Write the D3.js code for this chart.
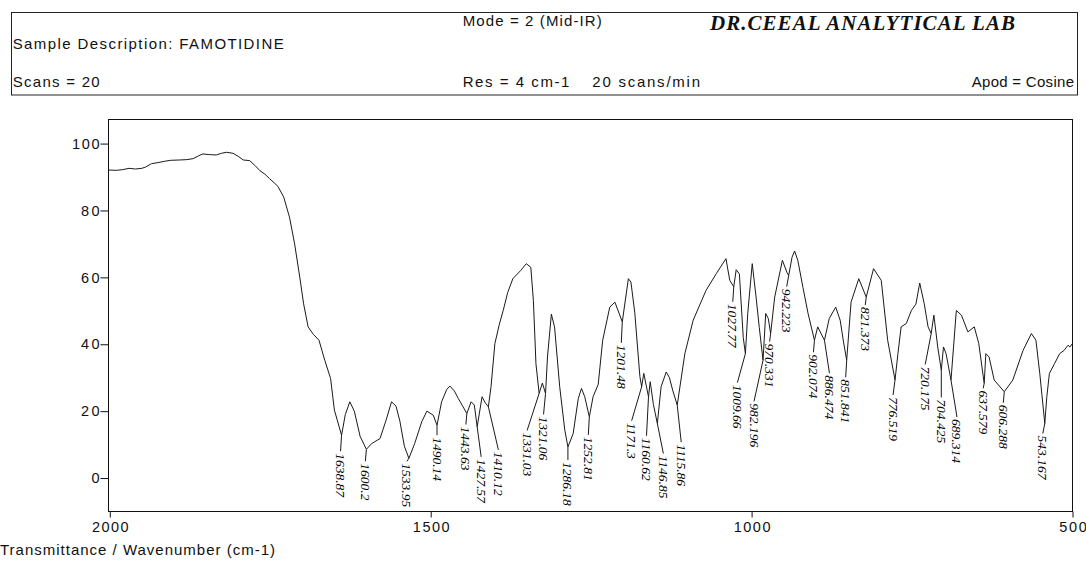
<!DOCTYPE html>
<html><head><meta charset="utf-8">
<script src="https://cdn.jsdelivr.net/npm/d3@7"></script>
<style>body{margin:0;background:#fff} svg{display:block}</style>
</head><body><svg id="c" width="1086" height="564"></svg>
<script>
// ---------------- DATA ----------------
const wavenumber = [2002,1990,1980,1970,1960,1950,1944,1935,1925,1915,1905,1891,1880,1870,1862,1855,1845,1834,1826,1818,1808,1800,1792,1782,1774,1766,1758,1751,1744,1738,1729,1720,1712,1704,1698,1691,1683,1674,1665,1656,1650,1638.87,1633,1626,1619,1610,1600.2,1592,1579,1570,1561,1554,1548,1541,1533.95,1525,1514,1506,1496,1490.14,1483,1475,1470,1463,1457,1443.63,1437,1432,1427.57,1420,1415,1410.12,1406,1400,1393,1387,1380,1372,1360,1351,1344,1340,1336,1331.03,1326,1321.06,1318,1312,1307,1299,1291,1286.18,1278,1270,1265,1260,1252.81,1247,1239,1232,1221,1213,1201.48,1192,1188,1182,1174,1171.3,1168,1160.62,1158,1153,1146.85,1141,1133,1128,1123,1115.86,1104,1091,1071,1055,1040,1034,1027.77,1024,1019,1013,1009.66,1006,999,993,988,982.196,978,974,970.331,964,952,945,942.223,937,933,928,920,912,902.074,897,886.474,879,869,862,857,851.841,845,833,821.373,810,798,788,776.519,772,767,759,751,744,738,731,725,720.175,716,710,704.425,701,697,689.314,681,673,663,653,646,637.579,635,630,622,606.288,593,577,564,557,551,543.167,540,536,528,520,513,507,504,501,500];
const transmittance = [92.1,92.0,92.2,92.6,92.4,92.6,93.0,94.0,94.3,94.7,95.0,95.1,95.2,95.5,96.3,96.9,96.7,96.6,97.1,97.4,97.1,96.2,95.1,94.9,93.5,91.9,90.8,89.5,88.3,87.2,84.0,78.0,70.0,60.1,52.1,45.2,43.0,41.2,35.2,29.8,20.3,12.8,19.0,22.8,20.0,12.5,8.6,10.3,11.8,17.0,22.8,21.5,17.0,9.5,5.9,10.3,16.8,20.0,18.8,15.8,22.8,26.5,27.5,26.0,23.8,19.3,22.8,21.8,15.3,24.3,22.5,21.3,27.3,40.2,46.0,50.1,55.5,59.6,62.0,64.1,63.0,53.1,34.2,25.3,28.4,25.3,36.2,49.0,45.2,27.3,14.3,9.3,13.3,23.8,26.8,24.3,18.3,24.3,28.0,41.2,51.1,52.6,46.7,59.6,58.6,49.4,30.3,27.3,31.3,24.3,28.8,22.0,16.3,27.3,31.7,30.0,26.3,21.8,37.2,47.2,56.1,61.1,65.6,59.1,57.2,62.3,61.0,42.0,37.2,49.2,64.1,54.1,45.0,35.2,49.2,47.7,43.2,54.1,65.1,61.5,60.5,66.0,67.9,65.1,57.0,49.2,41.2,45.2,41.2,47.7,51.1,47.2,41.0,35.2,52.6,59.6,54.1,62.6,59.1,41.2,29.3,37.2,45.2,46.2,50.1,52.0,58.3,52.1,45.2,43.2,48.7,39.2,32.2,39.2,37.2,29.3,50.1,48.7,43.7,45.2,40.2,28.3,37.2,36.2,29.3,25.8,29.3,38.2,43.2,41.2,31.3,16.3,24.3,31.3,34.2,37.2,38.2,39.7,39.2,40.0,39.5];
const peakLabels = ["1638.87","1600.2","1533.95","1490.14","1443.63","1427.57","1410.12","1331.03","1321.06","1286.18","1252.81","1201.48","1171.3","1160.62","1146.85","1115.86","1027.77","1009.66","982.196","970.331","942.223","902.074","886.474","851.841","821.373","776.519","720.175","704.425","689.314","637.579","606.288","543.167"];
const xTickValues = [2000,1500,1000,500];
const yTickValues = [0,20,40,60,80,100];
const headerLeft = ["Sample Description: FAMOTIDINE","Scans = 20"];
const headerMid = ["Mode = 2 (Mid-IR)","Res = 4 cm-1","20 scans/min"];
const labName = "DR.CEEAL ANALYTICAL LAB";
const apodText = "Apod = Cosine";
const axisTitle = "Transmittance / Wavenumber (cm-1)";

// ---------------- LAYOUT (label leader offsets, px) ----------------
const labelDx  = [-1,-1,-2,0,-1,4,10,-12,-2,0,-1,-1,-10,-2,6,4,-1,-8,-9,-1,-2,-1,5,-1,-1,-2,-6,0,6,-1,-1,-2];
const labelLen = [16,12,3,10,11,30,43,37,21,13,18,21,34,39,30,37,15,29,41,8,11,12,33,17,8,15,31,27,37,5,11,10];

// ---------------- DRAW ----------------
const svg = d3.select("#c");
const sans = "'Liberation Sans', Arial, sans-serif";
const x = d3.scaleLinear().domain([2002, 500]).range([108.5, 1072.5]);
const y = d3.scaleLinear().domain([-10, 107.2]).range([511.5, 119.5]);

// header box
svg.append("rect").attr("x",11.5).attr("y",12.5).attr("width",1066).attr("height",82.5)
  .attr("fill","none").attr("stroke","#222").attr("stroke-width",1);

function txt(s, xx, yy, w, opts={}) {
  const t = svg.append("text").attr("x",xx).attr("y",yy).text(s)
    .attr("font-family", opts.family || sans).attr("font-size", opts.size || 15)
    .attr("fill","#111");
  if (w) t.attr("textLength", w).attr("lengthAdjust","spacing");
  if (opts.weight) t.attr("font-weight", opts.weight);
  if (opts.style) t.attr("font-style", opts.style);
  return t;
}
txt(headerMid[0], 462.7, 26, 139);
txt(labName, 710, 29.5, 305, {family:"'Liberation Serif','Times New Roman',serif", size:21, weight:"bold", style:"italic"});
txt(headerLeft[0], 12.7, 49.3, 271);
txt(headerLeft[1], 12.7, 87.3, 87);
txt(headerMid[1], 462.7, 87.3, 106.6);
txt(headerMid[2], 592.3, 87.3, 107.7);
txt(apodText, 971.7, 87.3, 102.3);
txt(axisTitle, 0, 555, 275);

// plot frame
svg.append("rect").attr("x", x(2002)).attr("y", y(107.2))
  .attr("width", x(500)-x(2002)).attr("height", y(-10)-y(107.2))
  .attr("fill","none").attr("stroke","#111").attr("stroke-width",1);

// axes
const yAxis = svg.append("g").attr("transform",`translate(${x(2002)},0)`)
  .call(d3.axisLeft(y).tickValues(yTickValues).tickFormat(d3.format("d")).tickSize(8).tickPadding(1));
const xAxis = svg.append("g").attr("transform",`translate(0,${y(-10)})`)
  .call(d3.axisBottom(x).tickValues(xTickValues).tickFormat(d3.format("d")).tickSize(6).tickPadding(4));
[yAxis, xAxis].forEach(g => {
  g.select(".domain").remove();
  g.selectAll(".tick line").attr("stroke","#111");
  g.selectAll(".tick text").attr("font-family", sans).attr("font-size",14.5).attr("fill","#111")
    .attr("textLength", d => String(d).length*9.2).attr("lengthAdjust","spacing");
});

// spectrum
const pts = wavenumber.map((w,i) => [w, transmittance[i]]);
svg.append("path").datum(pts)
  .attr("d", d3.line().x(d => x(d[0])).y(d => y(d[1])))
  .attr("fill","none").attr("stroke","#1a1a1a").attr("stroke-width",1);

function tAt(w) {
  for (let i = 0; i < wavenumber.length-1; i++) {
    const a = wavenumber[i], b = wavenumber[i+1];
    if (w <= a && w >= b) {
      const f = (a - w) / (a - b);
      return transmittance[i] + f*(transmittance[i+1]-transmittance[i]);
    }
  }
  return transmittance[transmittance.length-1];
}

// peak labels
const lab = svg.append("g");
peakLabels.forEach((s,i) => {
  const w = +s, px = x(w), py = y(tAt(w));
  const ex = px + labelDx[i], ey = py + labelLen[i];
  lab.append("line").attr("x1",px).attr("y1",py).attr("x2",ex).attr("y2",ey)
    .attr("stroke","#1a1a1a").attr("stroke-width",1);
  lab.append("text").text(s)
    .attr("transform",`translate(${ex},${ey+2}) rotate(90)`)
    .attr("dominant-baseline","central")
    .attr("font-family","'Liberation Serif','Times New Roman',serif")
    .attr("font-style","italic").attr("font-size",13.5).attr("fill","#000");
});
</script></body></html>
